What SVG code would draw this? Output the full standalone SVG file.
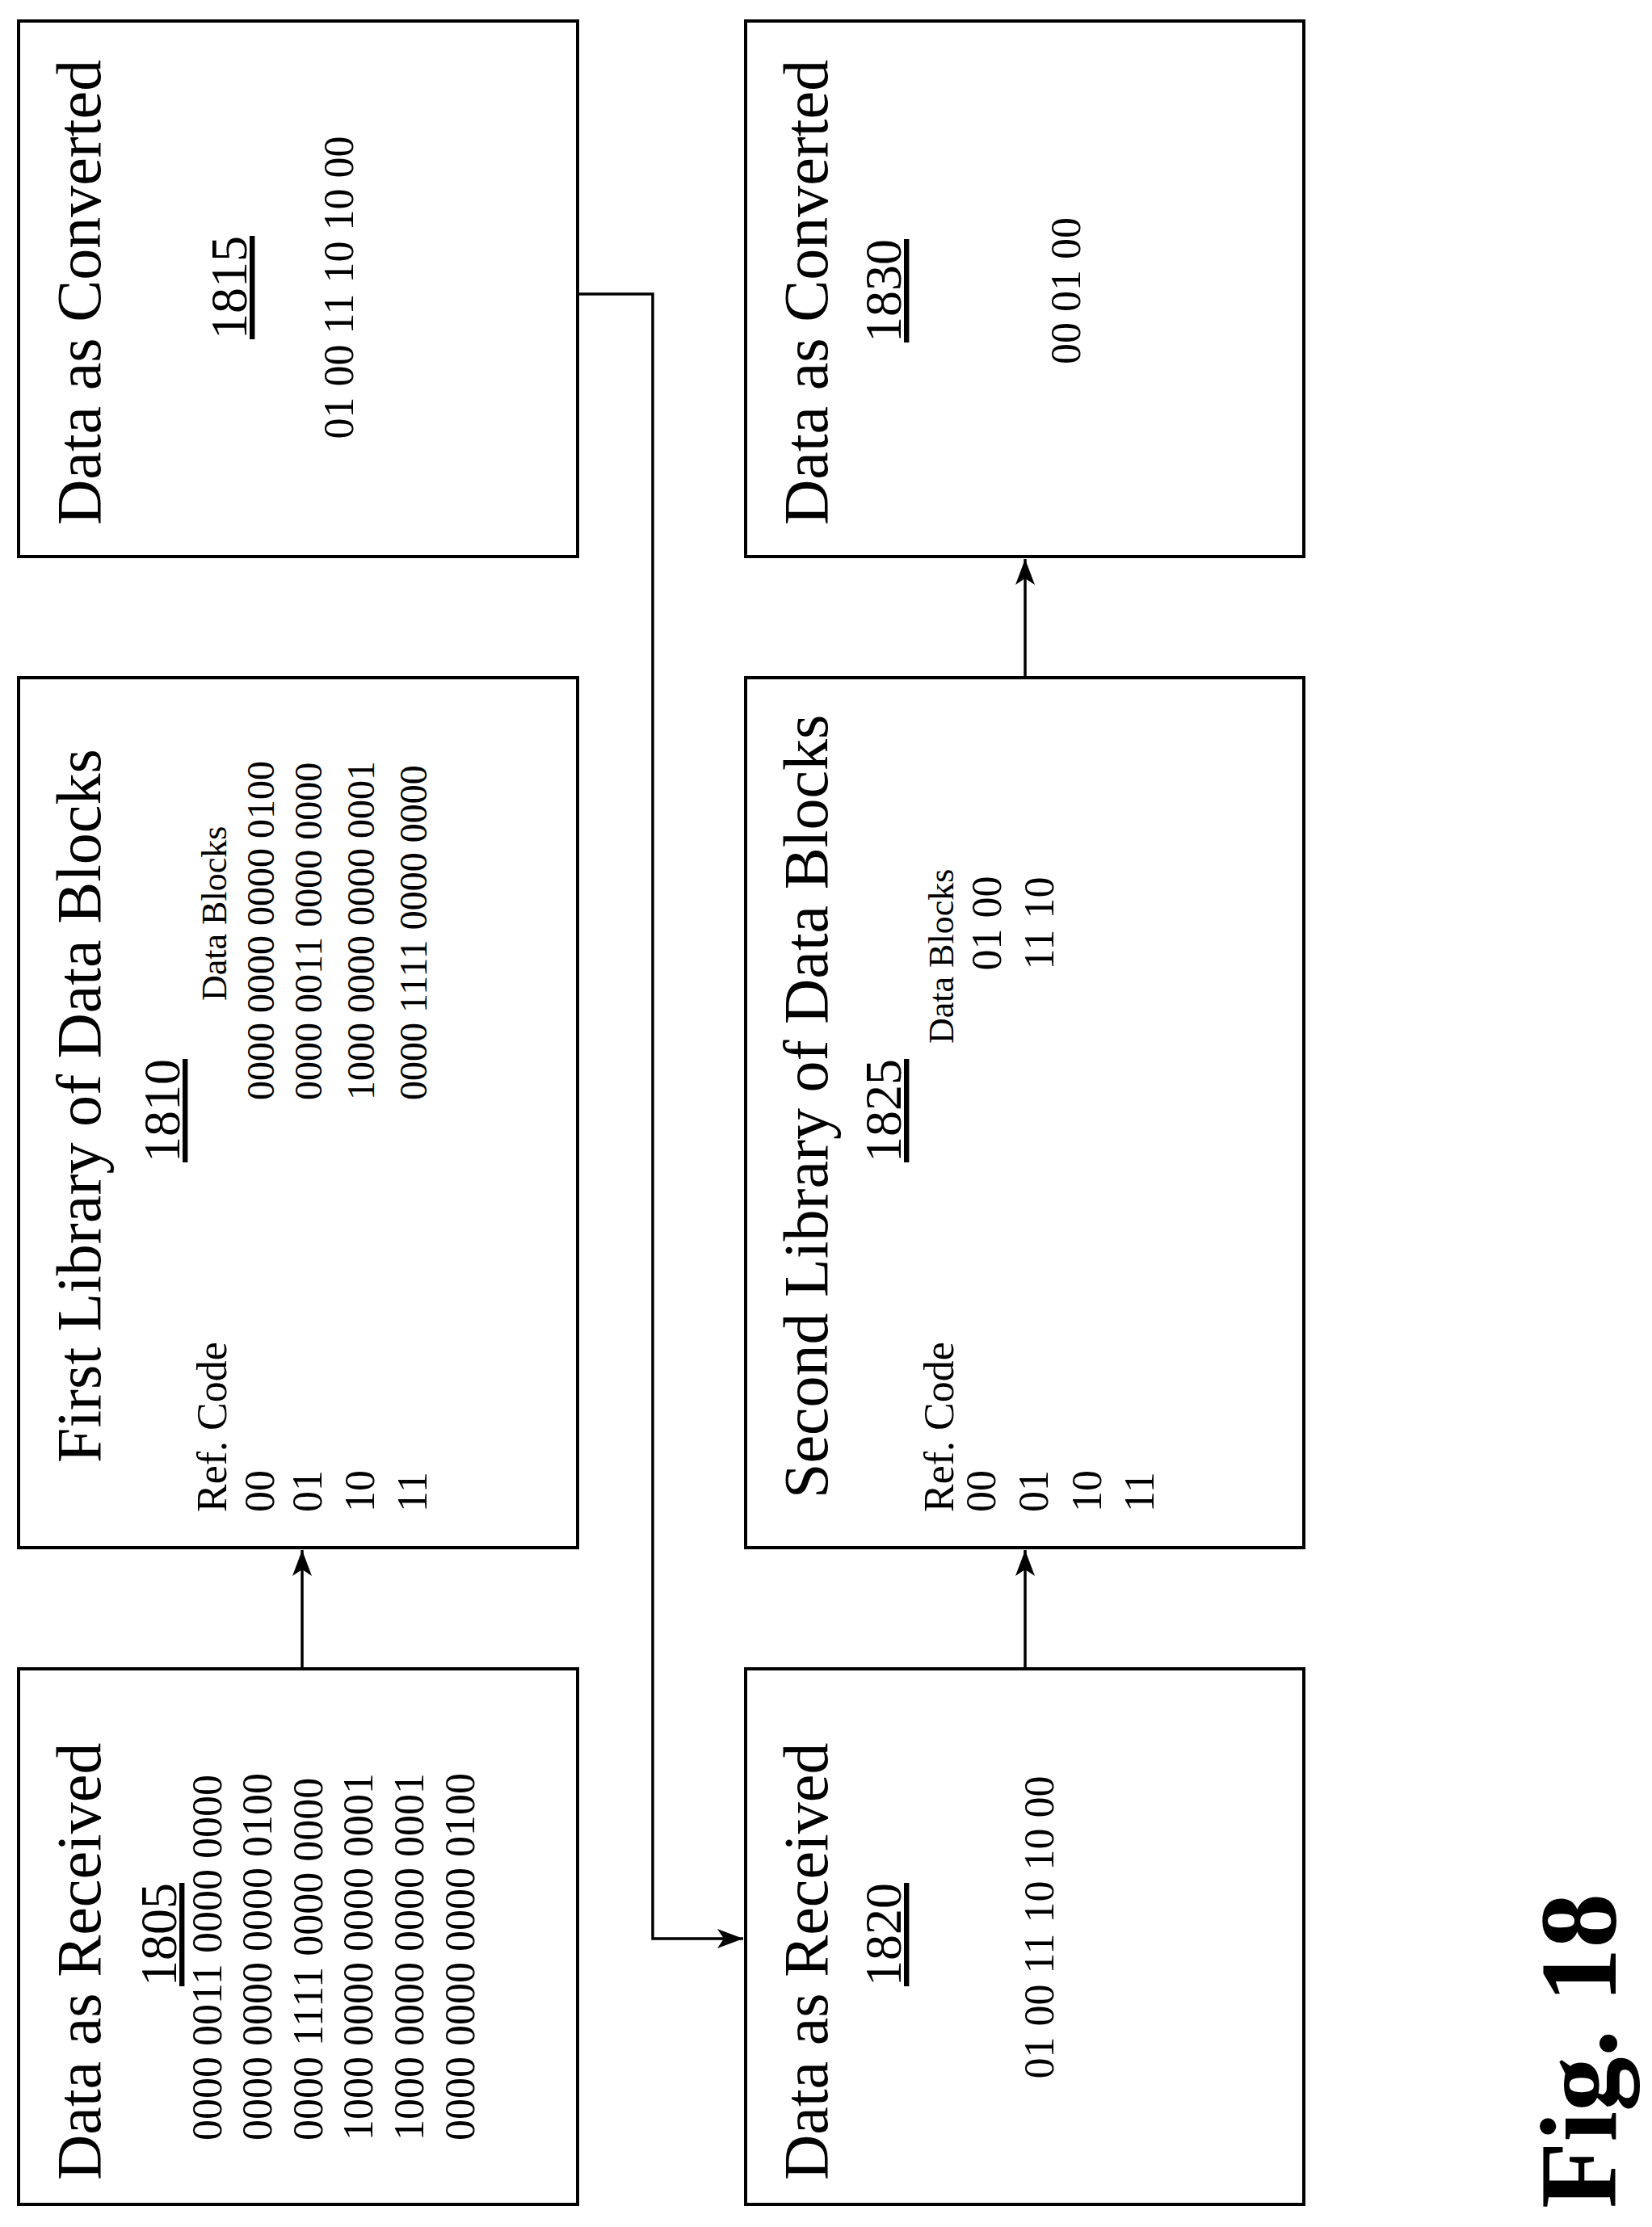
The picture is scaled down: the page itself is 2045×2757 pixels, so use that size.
<svg xmlns="http://www.w3.org/2000/svg" width="2045" height="2757" viewBox="0 0 2045 2757">
<style>
.box{fill:#fff;stroke:#000;stroke-width:4}
text{font-family:"Liberation Serif","Times New Roman",serif;fill:#000}
.t{font-size:78px}
.n{font-size:64px;text-decoration:underline}
.d{font-size:52px}
.s{font-size:44px}
.c{stroke:#000;stroke-width:3.5;fill:none}
</style>
<defs><marker id="a" viewBox="-32 -13 34 26" refX="0" refY="0" markerWidth="34" markerHeight="26" orient="auto" markerUnits="userSpaceOnUse"><path d="M0,0 L-32,-12 L-24,0 L-32,12 Z" fill="#000"/></marker></defs>
<rect width="2045" height="2757" fill="#fff"/>
<g id="connectors">
<line class="c" x1="374" y1="2066" x2="374" y2="1919" marker-end="url(#a)"/>
<line class="c" x1="1269" y1="2066" x2="1269" y2="1919" marker-end="url(#a)"/>
<line class="c" x1="1269" y1="839" x2="1269" y2="692" marker-end="url(#a)"/>
<polyline class="c" points="715,364 808,364 808,2400 920,2400" marker-end="url(#a)"/>
</g>
<g id="n1805"><rect class="box" x="23" y="2066" width="692" height="663"/>
<text class="t" transform="translate(124,2699) rotate(-90)">Data as Received</text>
<text class="n" text-anchor="middle" transform="translate(218,2395) rotate(-90)">1805</text>
<g class="d" transform="translate(0,2650)">
<text transform="translate(274,0) rotate(-90)">0000 0011 0000 0000</text>
<text transform="translate(336,0) rotate(-90)">0000 0000 0000 0100</text>
<text transform="translate(399,0) rotate(-90)">0000 1111 0000 0000</text>
<text transform="translate(461,0) rotate(-90)">1000 0000 0000 0001</text>
<text transform="translate(524,0) rotate(-90)">1000 0000 0000 0001</text>
<text transform="translate(587,0) rotate(-90)">0000 0000 0000 0100</text>
</g></g>
<g id="n1810"><rect class="box" x="23" y="839" width="692" height="1077"/>
<text class="t" transform="translate(124,1811) rotate(-90)">First Library of Data Blocks</text>
<text class="n" text-anchor="middle" transform="translate(222,1375) rotate(-90)">1810</text>
<text class="d" transform="translate(280,1872) rotate(-90)">Ref. Code</text>
<text class="s" transform="translate(280,1239) rotate(-90)">Data Blocks</text>
<g class="d">
<text transform="translate(339,1872) rotate(-90)">00</text>
<text transform="translate(398,1872) rotate(-90)">01</text>
<text transform="translate(463,1872) rotate(-90)">10</text>
<text transform="translate(528,1872) rotate(-90)">11</text>
</g>
<g style="font-size:48px">
<text transform="translate(339,1362) rotate(-90)">0000 0000 0000 0100</text>
<text transform="translate(398,1362) rotate(-90)">0000 0011 0000 0000</text>
<text transform="translate(463,1362) rotate(-90)">1000 0000 0000 0001</text>
<text transform="translate(528,1362) rotate(-90)">0000 1111 0000 0000</text>
</g></g>
<g id="n1815"><rect class="box" x="23" y="26" width="692" height="663"/>
<text class="t" transform="translate(124,650) rotate(-90)">Data as Converted</text>
<text class="n" text-anchor="middle" transform="translate(305,356) rotate(-90)">1815</text>
<text class="d" text-anchor="middle" transform="translate(437,356) rotate(-90)">01 00 11 10 10 00</text>
</g>
<g id="n1820"><rect class="box" x="923" y="2066" width="691" height="663"/>
<text class="t" transform="translate(1024,2699) rotate(-90)">Data as Received</text>
<text class="n" text-anchor="middle" transform="translate(1115,2395) rotate(-90)">1820</text>
<text class="d" text-anchor="middle" transform="translate(1304,2386) rotate(-90)">01 00 11 10 10 00</text>
</g>
<g id="n1825"><rect class="box" x="923" y="839" width="691" height="1077"/>
<text class="t" transform="translate(1024,1855) rotate(-90)">Second Library of Data Blocks</text>
<text class="n" text-anchor="middle" transform="translate(1115,1375) rotate(-90)">1825</text>
<text class="d" transform="translate(1180,1872) rotate(-90)">Ref. Code</text>
<text class="s" transform="translate(1180,1292) rotate(-90)">Data Blocks</text>
<g class="d">
<text transform="translate(1232,1872) rotate(-90)">00</text>
<text transform="translate(1297,1872) rotate(-90)">01</text>
<text transform="translate(1363,1872) rotate(-90)">10</text>
<text transform="translate(1428,1872) rotate(-90)">11</text>
<text text-anchor="middle" transform="translate(1239,1143) rotate(-90)">01 00</text>
<text text-anchor="middle" transform="translate(1304,1143) rotate(-90)">11 10</text>
</g></g>
<g id="n1830"><rect class="box" x="923" y="26" width="691" height="663"/>
<text class="t" transform="translate(1024,650) rotate(-90)">Data as Converted</text>
<text class="n" text-anchor="middle" transform="translate(1115,360) rotate(-90)">1830</text>
<text class="d" text-anchor="middle" transform="translate(1337,360) rotate(-90)">00 01 00</text>
</g>
<text style="font-size:135px;font-weight:bold" transform="translate(2000,2734) rotate(-90)">Fig. 18</text>
</svg>
